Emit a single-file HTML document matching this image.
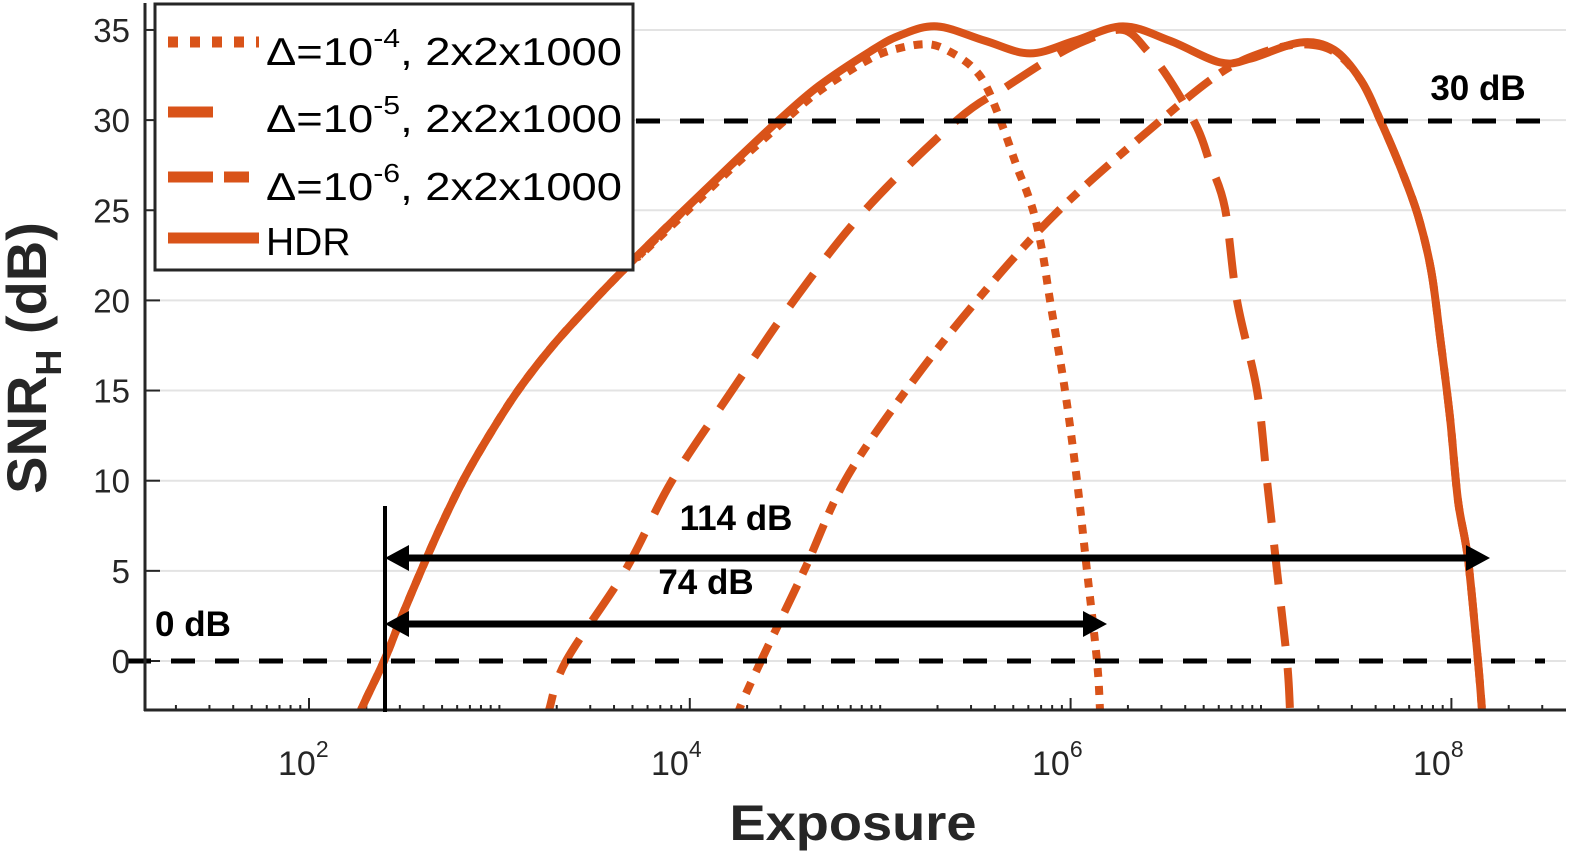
<!DOCTYPE html>
<html><head><meta charset="utf-8"><style>
html,body{margin:0;padding:0;background:#fff;}
svg{display:block;}
</style></head><body>
<svg id="s" width="1594" height="852" viewBox="0 0 1594 852" xmlns="http://www.w3.org/2000/svg" font-family="Liberation Sans, Arial, sans-serif">
<rect width="1594" height="852" fill="#fff"/>
<g id="grid" stroke="#e3e3e3" stroke-width="2"></g>
<g id="ticks" stroke="#262626" stroke-width="2"></g>
<defs><clipPath id="cp"><rect x="145" y="0" width="1430" height="710"/></clipPath></defs>
<g id="curves" clip-path="url(#cp)" fill="none" stroke="#D95319" stroke-width="8"></g>
<line x1="127" y1="661" x2="1545" y2="661" stroke="#000" stroke-width="5" stroke-dasharray="24 20"/>
<line x1="636" y1="121" x2="1545" y2="121" stroke="#000" stroke-width="5" stroke-dasharray="24 20"/>
<line x1="145" y1="3" x2="145" y2="711" stroke="#262626" stroke-width="3"/>
<line x1="144" y1="710" x2="1566" y2="710" stroke="#262626" stroke-width="3"/>
<line x1="385" y1="506" x2="385" y2="712" stroke="#000" stroke-width="4"/>
<line x1="400" y1="558" x2="1470" y2="558" stroke="#000" stroke-width="7"/>
<polygon points="385,558 409,545 409,571" fill="#000"/>
<polygon points="1490,558 1466,545 1466,571" fill="#000"/>
<line x1="400" y1="624" x2="1090" y2="624" stroke="#000" stroke-width="7"/>
<polygon points="385,624 409,611 409,637" fill="#000"/>
<polygon points="1107,624 1083,611 1083,637" fill="#000"/>
<g font-weight="bold" font-size="35" fill="#000">
<text x="736" y="530" text-anchor="middle">114 dB</text>
<text x="706" y="594" text-anchor="middle">74 dB</text>
<text x="155" y="636">0 dB</text>
<text x="1478" y="100" text-anchor="middle">30 dB</text>
</g>
<g id="ylab" font-size="33" fill="#262626" text-anchor="end"></g>
<g font-size="34" fill="#262626">
<text x="278" y="775">10<tspan font-size="23" dy="-18">2</tspan></text>
<text x="651" y="775">10<tspan font-size="23" dy="-18">4</tspan></text>
<text x="1032" y="775">10<tspan font-size="23" dy="-18">6</tspan></text>
<text x="1413" y="775">10<tspan font-size="23" dy="-18">8</tspan></text>
</g>
<text x="853" y="840" text-anchor="middle" font-size="50" font-weight="bold" fill="#262626" textLength="247" lengthAdjust="spacingAndGlyphs">Exposure</text>
<text transform="translate(46,358) rotate(-90)" text-anchor="middle" font-size="56" font-weight="bold" fill="#262626">SNR<tspan font-size="36" dy="15">H</tspan><tspan dy="-15"> (dB)</tspan></text>
<rect x="155" y="4" width="478" height="266" fill="#fff" stroke="#262626" stroke-width="3"/>
<g stroke="#D95319" stroke-width="11">
<line x1="168" y1="42" x2="259" y2="42" stroke-dasharray="10 12"/>
<line x1="168" y1="112" x2="213" y2="112"/>
<line x1="168" y1="177" x2="213" y2="177"/><line x1="224" y1="177" x2="249" y2="177"/>
<line x1="168" y1="238" x2="259" y2="238"/>
</g>
<g font-size="39" fill="#000">
<text x="266" y="65" textLength="356" lengthAdjust="spacingAndGlyphs">Δ=10<tspan font-size="26" dy="-18">-4</tspan><tspan dy="18">, 2x2x1000</tspan></text>
<text x="266" y="132" textLength="356" lengthAdjust="spacingAndGlyphs">Δ=10<tspan font-size="26" dy="-18">-5</tspan><tspan dy="18">, 2x2x1000</tspan></text>
<text x="266" y="200" textLength="356" lengthAdjust="spacingAndGlyphs">Δ=10<tspan font-size="26" dy="-18">-6</tspan><tspan dy="18">, 2x2x1000</tspan></text>
<text x="266" y="255">HDR</text>
</g>
</svg>
<script>
(function(){
var NS="http://www.w3.org/2000/svg";
function Y(v){return 661-18.03*v;}
function el(p,tag,a){var e=document.createElementNS(NS,tag);for(var k in a)e.setAttribute(k,a[k]);p.appendChild(e);return e;}
var grid=document.getElementById('grid'),ticks=document.getElementById('ticks'),yl=document.getElementById('ylab');
for(var v=0;v<=35;v+=5){var y=Y(v);el(grid,'line',{x1:147,y1:y,x2:1566,y2:y});el(ticks,'line',{x1:145,y1:y,x2:160,y2:y});var t=el(yl,'text',{x:130,y:y+12});t.textContent=v;}
function X(L){return 309+190.4*(L-2);}
for(var d=1;d<=8;d++){for(var k=1;k<=9;k++){var L=d+Math.log10(k);var x=X(L);if(x<146||x>1565)continue;var len=(k==1&&d%2==0)?12:5;el(ticks,'line',{x1:x,y1:710,x2:x,y2:710-len});}}
function path(pts){var P=pts.map(function(p){return [p[0],Y(p[1])];});var d="M"+P[0][0]+","+P[0][1];
for(var i=0;i<P.length-1;i++){var p0=P[Math.max(0,i-1)],p1=P[i],p2=P[i+1],p3=P[Math.min(P.length-1,i+2)];
var c1x=p1[0]+(p2[0]-p0[0])/6,c1y=p1[1]+(p2[1]-p0[1])/6,c2x=p2[0]-(p3[0]-p1[0])/6,c2y=p2[1]-(p3[1]-p1[1])/6;
d+=" C"+c1x+","+c1y+" "+c2x+","+c2y+" "+p2[0]+","+p2[1];}return d;}
var rise=[[354,-4],[361,-2.72],[384,0],[402,2.5],[421,5],[441,7.5],[463,10],[489,12.5],[518,15],[553,17.5],[594,20],[638,22.5],[684,25],[731,27.5],[779,30],[819,31.9]];
var hdr=rise.concat([[870,33.8],[900,34.7],[937,35.2],[985,34.4],[1030,33.7],[1075,34.4],[1123,35.2],[1170,34.4],[1220,33.2],[1250,33.4],[1300,34.3],[1334,33.9],[1361,32.2],[1381,29.9],[1401,27.3],[1418,24.7],[1431,21.7],[1440,18],[1450,13.5],[1458,8.9],[1468,5.65],[1478,0],[1482,-2.72],[1484,-4]]);
var dot=rise.slice(0,13).concat([[638,22.4],[684,24.8],[731,27.3],[779,29.7],[819,31.6],[870,33.4],[900,34.0],[930,34.2],[953,33.7],[973,32.9],[987,31.8],[1003,29.6],[1017,27.4],[1027,26],[1035,24.6],[1043,22.5],[1050,20],[1065,15],[1077,10],[1087,5],[1097,0],[1100,-2.72],[1101,-4]]);
var ld=[[543,-4],[549,-2.72],[566,0],[625,5],[672,10],[732,15],[794,20],[865,25],[957,30],[1005,31.8],[1050,33.4],[1085,34.4],[1123,35.0],[1148,33.8],[1170,32.2],[1197,29.6],[1210,27.6],[1225,25.1],[1237,20],[1257,15],[1267,10],[1277,5],[1287,0],[1290,-2.72],[1291,-4]];
var md=[[733,-4],[739,-2.72],[761,0],[804,5],[845,10],[906,15],[977,20],[1059,25],[1161,30],[1220,32.6],[1260,33.7],[1300,34.2],[1334,33.8],[1361,32.2],[1381,29.9],[1401,27.3],[1418,24.7],[1431,21.7],[1440,18],[1450,13.5],[1458,8.9],[1468,5.65],[1478,0],[1482,-2.72],[1484,-4]];
var c=document.getElementById('curves');
el(c,'path',{d:path(hdr)});
el(c,'path',{d:path(dot),'stroke-dasharray':'9 9'});
el(c,'path',{d:path(ld),'stroke-dasharray':'40 22'});
el(c,'path',{d:path(md),'stroke-dasharray':'30 12 12 12'});
})();
</script>
</body></html>
